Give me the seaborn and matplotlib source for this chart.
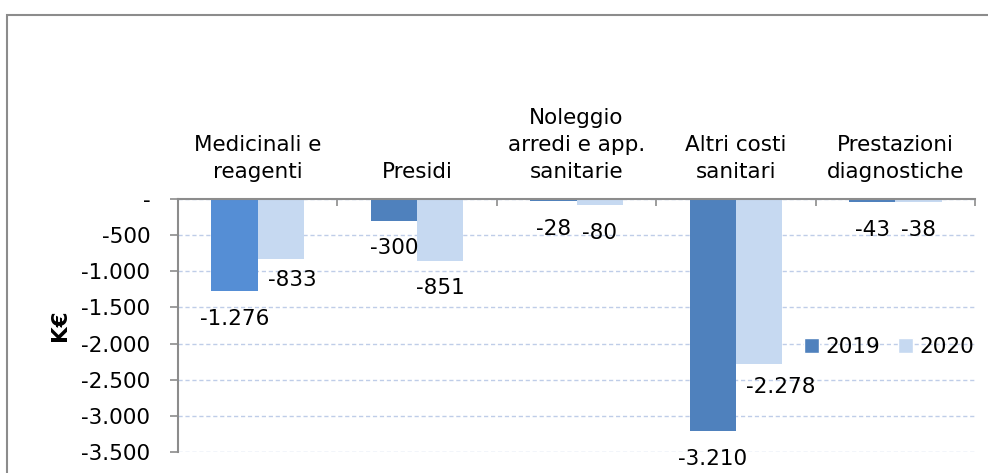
import matplotlib
matplotlib.use('Agg')
import matplotlib.pyplot as plt
import matplotlib.ticker as mticker
from matplotlib.patches import Rectangle, Patch
import seaborn as sns
import pandas as pd

# dati (K€)
categorie = ['Medicinali e\nreagenti', 'Presidi', 'Noleggio\narredi e app.\nsanitarie',
             'Altri costi\nsanitari', 'Prestazioni\ndiagnostiche']
anni = ['2019', '2020']
valori_2019 = [-1276, -300, -28, -3210, -43]
valori_2020 = [-833, -851, -80, -2278, -38]

col_2019 = '#4F81BD'
col_2020 = '#C6D9F1'

df = pd.DataFrame({
    'categoria': categorie * 2,
    'anno': [anni[0]] * len(categorie) + [anni[1]] * len(categorie),
    'valore': valori_2019 + valori_2020,
})

sns.set_theme(style='white')
plt.rcParams['font.family'] = ['DejaVu Sans']
plt.rcParams['text.color'] = 'black'
plt.rcParams['xtick.color'] = 'black'
plt.rcParams['ytick.color'] = 'black'
plt.rcParams['axes.labelcolor'] = 'black'

FS = 15.5

fig = plt.figure(figsize=(9.88, 4.73), dpi=100)
ax = fig.add_axes([178 / 988, 1 - 452 / 473, 797 / 988, 253 / 473])

sns.barplot(data=df, x='categoria', y='valore', hue='anno', palette=[col_2019, col_2020],
            width=0.58, gap=0, saturation=1, legend=False, ax=ax, errorbar=None,
            linewidth=0)
# primo gruppo evidenziato
ax.containers[0].patches[0].set_facecolor('#558ED5')

ax.set_ylim(-3500, 0)
ax.set_xlim(-0.5, len(categorie) - 0.5)

fmt = lambda v: '-' if v == 0 else f'{v:,.0f}'.replace(',', '.')
ax.yaxis.set_major_locator(mticker.MultipleLocator(500))
ax.yaxis.set_major_formatter(mticker.FuncFormatter(lambda v, p: fmt(v)))
ax.tick_params(axis='y', labelsize=FS, length=6, width=1.2, color='#8c8c8c',
               labelcolor='black', pad=14, left=True)
ax.set_ylabel('K€', fontsize=FS, fontweight='bold', labelpad=8)

# etichette categorie sopra l'asse dello zero
ax.xaxis.tick_top()
ax.set_xlabel('')
ax.set_xticks(range(len(categorie)))
ax.set_xticklabels(categorie, fontsize=FS, linespacing=1.45, ha='center', multialignment='center')
ax.tick_params(axis='x', which='major', length=0, pad=12, labelcolor='black')
ax.set_xticks([i - 0.5 for i in range(len(categorie) + 1)], minor=True)
ax.tick_params(axis='x', which='minor', top=True, bottom=False, direction='in',
               length=5, width=1.2, color='#8c8c8c')

ax.grid(axis='y', color='#BFCDE8', linestyle=(0, (3, 2)), linewidth=1)
ax.set_axisbelow(True)
for s in ['bottom', 'right']:
    ax.spines[s].set_visible(False)
for s in ['top', 'left']:
    ax.spines[s].set_color('#8c8c8c')
    ax.spines[s].set_linewidth(1.5)

# etichette dati sotto le barre (spostamenti in pt)
spost = {(0, 1): (8, -15), (3, 1): (16, -17)}
for k, cont in enumerate(ax.containers):
    for i, bar in enumerate(cont.patches):
        v = bar.get_height()
        dx, dy = spost.get((i, k), (0, -20))
        ax.annotate(fmt(v), (bar.get_x() + bar.get_width() / 2, v), xytext=(dx, dy),
                    textcoords='offset points', ha='center', va='center', fontsize=FS)

handles = [Patch(facecolor=col_2019), Patch(facecolor=col_2020)]
ax.legend(handles, anni, loc='center left', bbox_to_anchor=(0.775, 0.415), ncol=2,
          frameon=False, fontsize=FS, handlelength=0.7, handleheight=0.7,
          handletextpad=0.3, columnspacing=0.8, borderaxespad=0)

# cornice esterna
fig.patches.append(Rectangle((7 / 988, -0.1), 1.1, 1.1 - 15 / 473, transform=fig.transFigure,
                             fill=False, edgecolor='#8c8c8c', linewidth=1.5))

fig.savefig('out.png', dpi=100)
